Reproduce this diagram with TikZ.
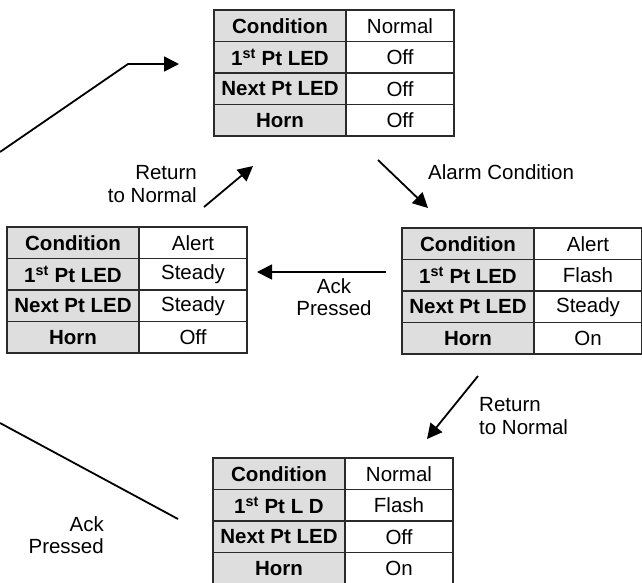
\documentclass[tikz,border=0pt]{standalone}
\usepackage{fontspec}
\setmainfont{Liberation Sans}
\usetikzlibrary{arrows.meta}
\definecolor{tblline}{HTML}{2A2A2A}
\definecolor{tblfill}{HTML}{DEDEDE}
\tikzset{
  lab/.style={draw=tblline, line width=1.2pt, fill=tblfill, minimum width=132pt, minimum height=31.5pt, inner sep=0pt, outer sep=0pt, font=\fontsize{20.5}{23}\selectfont\bfseries},
  val/.style={draw=tblline, line width=1.2pt, fill=white, minimum width=108pt, minimum height=31.5pt, inner sep=0pt, outer sep=0pt, font=\fontsize{20.5}{23}\selectfont},
  arr/.style={line width=1.8pt, -{Triangle[length=15pt,width=15pt]}},
  plain/.style={line width=1.8pt},
  txt/.style={inner sep=0pt, font=\fontsize{20.5}{22.5}\selectfont}
}
\newcommand\mystatetable[8]{%
  \node[lab, anchor=north west] (#1-l1) at (#2,#3) {Condition};
  \node[val, anchor=west] (#1-v1) at (#1-l1.east) {#4};
  \node[lab, anchor=north] (#1-l2) at (#1-l1.south) {#5};
  \node[val, anchor=west] (#1-v2) at (#1-l2.east) {#6};
  \node[lab, anchor=north] (#1-l3) at (#1-l2.south) {Next Pt LED};
  \node[val, anchor=west] (#1-v3) at (#1-l3.east) {#7};
  \node[lab, anchor=north] (#1-l4) at (#1-l3.south) {Horn};
  \node[val, anchor=west] (#1-v4) at (#1-l4.east) {#8};
}
\begin{document}
\begin{tikzpicture}[x=1pt, y=-1pt, font=\fontsize{20.5}{23}\selectfont]
\useasboundingbox (0,0) rectangle (642,582);
\fill[white] (0,0) rectangle (642,582);

\mystatetable{top}{214}{10}{Normal}{1\textsuperscript{st} Pt LED}{Off}{Off}{Off}
\mystatetable{lft}{7}{227}{Alert}{1\textsuperscript{st} Pt LED}{Steady}{Steady}{Off}
\mystatetable{rgt}{402}{228}{Alert}{1\textsuperscript{st} Pt LED}{Flash}{Steady}{On}
\mystatetable{bot}{213}{458}{Normal}{1\textsuperscript{st} Pt L D}{Flash}{Off}{On}

% labels
\node[txt, align=right, anchor=east] (lblret1) at (197,184) {Return\\to Normal};
\node[txt, anchor=west] (lblalarm) at (428,172) {Alarm Condition};
\node[txt, align=center] (lblack1) at (334,297) {Ack\\Pressed};
\node[txt, align=left, anchor=west] (lblret2) at (479,416) {Return\\to Normal};
\node[txt, align=right, anchor=east] (lblack2) at (104,535) {Ack\\Pressed};

% connector end points
\coordinate (a1s) at (0,152);
\coordinate (a1m) at (128,64);
\coordinate (a1e) at (179,64);
\coordinate (a2s) at (0,423);
\coordinate (a2e) at (178,519);
\coordinate (r1s) at (204,207);
\coordinate (r1e) at (253,166);
\coordinate (ams) at (378,160);
\coordinate (ame) at (428,208);
\coordinate (aks) at (386,272);
\coordinate (ake) at (257,272);
\coordinate (r2s) at (478,376);
\coordinate (r2e) at (427,439);

\draw[arr] (a1s) -- (a1m) -- (a1e);
\draw[plain] (a2s) -- (a2e);
\draw[arr] (r1s) -- (r1e);
\draw[arr] (ams) -- (ame);
\draw[arr] (aks) -- (ake);
\draw[arr] (r2s) -- (r2e);
\end{tikzpicture}
\end{document}
